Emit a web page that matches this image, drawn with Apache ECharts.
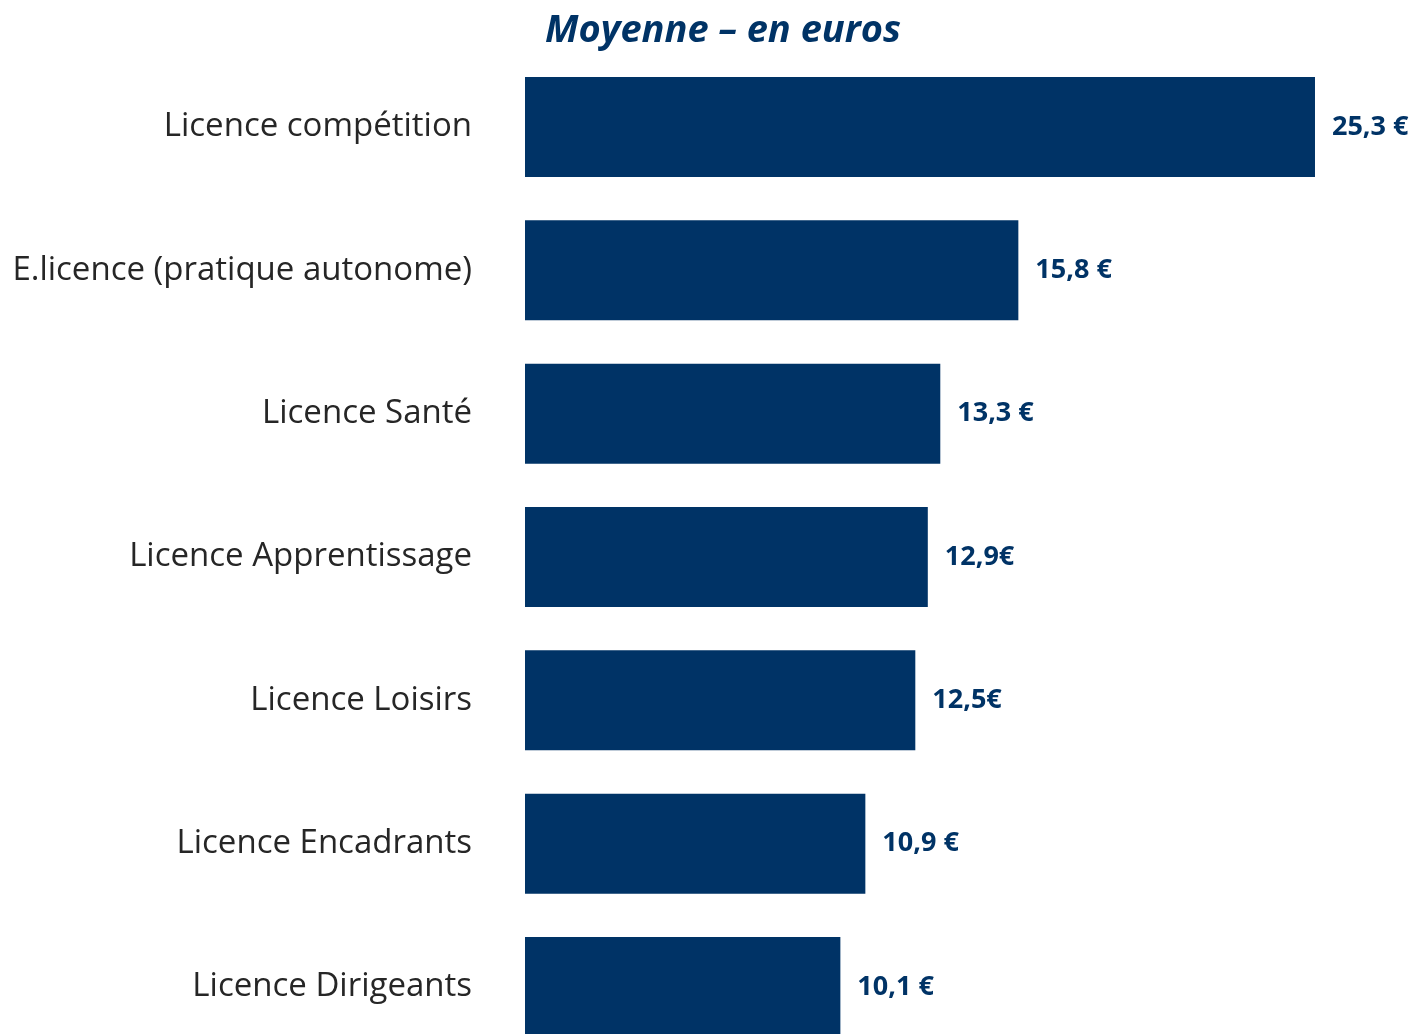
<!DOCTYPE html>
<html>
<head>
<meta charset="utf-8">
<script src="https://cdn.jsdelivr.net/npm/echarts@6/dist/echarts.min.js"></script>
<style>
  html, body { margin: 0; padding: 0; background: #ffffff; overflow: hidden; }
  /* the last bar runs past the bottom edge of the page */
  #chart { width: 1415px; height: 1100px; }
</style>
</head>
<body>
<div id="chart"></div>
<script>
// Licence types, top to bottom
const categories = [
  'Licence compétition',
  'E.licence (pratique autonome)',
  'Licence Santé',
  'Licence Apprentissage',
  'Licence Loisirs',
  'Licence Encadrants',
  'Licence Dirigeants'
];
// Average price in euros
const values = [25.3, 15.8, 13.3, 12.9, 12.5, 10.9, 10.1];
// Value labels as printed next to each bar
const valueLabels = ['25,3 €', '15,8 €', '13,3 €', '12,9€', '12,5€', '10,9 €', '10,1 €'];

const navy = '#003366';
const chart = echarts.init(document.getElementById('chart'), null, { renderer: 'canvas' });

chart.setOption({
  animation: false,
  backgroundColor: '#ffffff',
  title: {
    text: 'Moyenne – en euros',
    left: 718,
    textAlign: 'center',
    top: 7,
    textStyle: {
      fontFamily: 'Open Sans',
      fontStyle: 'italic',
      fontWeight: 'bold',
      fontSize: 38,
      color: navy
    }
  },
  grid: {
    left: 525,
    top: 55.33,
    width: 874.3,
    height: 1003.33,
    containLabel: false
  },
  xAxis: {
    type: 'value',
    min: 0,
    max: 28,
    show: false
  },
  yAxis: {
    type: 'category',
    inverse: true,
    data: categories,
    axisLine: { show: false },
    axisTick: { show: false },
    splitLine: { show: false },
    axisLabel: {
      margin: 53,
      padding: [10, 0, 0, 0],
      fontFamily: 'Open Sans',
      fontSize: 33,
      color: '#262626'
    }
  },
  series: [{
    type: 'bar',
    data: values,
    barCategoryGap: '30.2%',
    itemStyle: { color: navy },
    label: {
      show: true,
      position: 'right',
      distance: 17,
      padding: [8, 0, 0, 0],
      fontFamily: 'Open Sans',
      fontWeight: 'bold',
      fontSize: 27,
      color: navy,
      formatter: p => valueLabels[p.dataIndex]
    }
  }]
});
</script>
</body>
</html>
